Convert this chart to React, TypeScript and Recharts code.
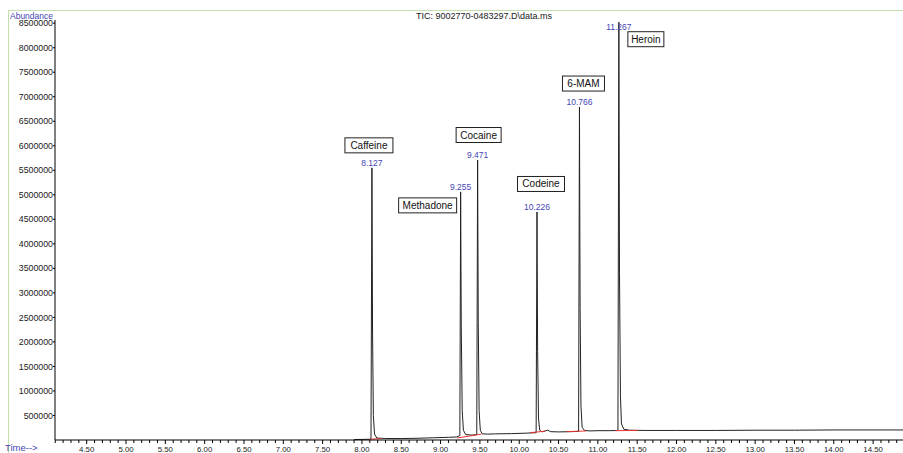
import React from 'react';
import { ComposedChart, Line, Scatter, XAxis, YAxis } from 'recharts';

// TIC trace, retention time (min) vs abundance
const timeMin = [
  7.9, 8.0, 8.1, 8.115, 8.127, 8.135, 8.145, 8.16, 8.19, 8.3, 8.5, 8.7, 8.9, 9.1, 9.2,
  9.245, 9.255, 9.263, 9.275, 9.29, 9.32, 9.4, 9.46, 9.471, 9.479, 9.49, 9.505, 9.53,
  9.6, 9.7, 9.9, 10.1, 10.215, 10.226, 10.234, 10.245, 10.26, 10.29, 10.33, 10.36, 10.4,
  10.5, 10.65, 10.755, 10.766, 10.774, 10.785, 10.8, 10.83, 10.9, 11.0, 11.15, 11.255,
  11.267, 11.275, 11.287, 11.3, 11.33, 11.4, 11.6, 12.0, 12.5, 13.0, 13.5, 14.0, 14.5, 14.88,
];
const abundance = [
  10000, 12000, 15000, 30000, 5550000, 2200000, 500000, 120000, 40000, 30000, 30000, 35000, 45000, 55000, 60000,
  90000, 5060000, 2300000, 600000, 200000, 110000, 100000, 110000, 5710000, 2400000, 600000, 200000, 125000,
  120000, 125000, 130000, 140000, 150000, 4650000, 1800000, 450000, 200000, 165000, 185000, 200000, 170000,
  165000, 170000, 175000, 6790000, 2700000, 700000, 260000, 195000, 185000, 190000, 190000, 195000,
  8520000, 3400000, 900000, 330000, 220000, 200000, 195000, 195000, 195000, 200000, 200000, 205000, 205000, 205000,
];

// identified peaks
const peakNames = ['Caffeine', 'Methadone', 'Cocaine', 'Codeine', '6-MAM', 'Heroin'];
const peakTimes = [8.127, 9.255, 9.471, 10.226, 10.766, 11.267];
const peakHeights = [5550000, 5060000, 5710000, 4650000, 6790000, 8520000];

// integration baselines (red)
const baseStartTime = [8.1, 9.21, 10.14, 10.6, 11.22];
const baseStartValue = [15000, 40000, 150000, 170000, 190000];
const baseEndTime = [8.25, 9.52, 10.33, 10.85, 11.51];
const baseEndValue = [30000, 120000, 180000, 185000, 195000];

const yTicks = [
  500000, 1000000, 1500000, 2000000, 2500000, 3000000, 3500000, 4000000, 4500000,
  5000000, 5500000, 6000000, 6500000, 7000000, 7500000, 8000000, 8500000,
];
const xMajorTicks = [4.5, 5, 5.5, 6, 6.5, 7, 7.5, 8, 8.5, 9, 9.5, 10, 10.5, 11, 11.5, 12, 12.5, 13, 13.5, 14, 14.5];
const xMinorTicks = Array.from({ length: 108 }, (_, i) => Math.round((4.1 + i * 0.1) * 10) / 10);

// label placement relative to each apex
const labelLayout = [
  { dx: -3, dy: -22.5, w: 48, numDy: -5 },
  { dx: -33, dy: 13.5, w: 58, numDy: -5 },
  { dx: 1, dy: -25, w: 45, numDy: -5 },
  { dx: 4, dy: -28, w: 47, numDy: -5 },
  { dx: 4, dy: -23.5, w: 42, numDy: -5 },
  { dx: 27, dy: 17, w: 36, numDy: 5 },
];

const trace = timeMin.map((t, i) => ({ t, v: abundance[i] }));
const peaks = peakNames.map((name, i) => ({ t: peakTimes[i], v: peakHeights[i], name, i }));
const baselines = baseStartTime.map((t, i) => [
  { t, v: baseStartValue[i] },
  { t: baseEndTime[i], v: baseEndValue[i] },
]);

const FONT = '"Liberation Sans", Arial, sans-serif';
const BLUE = '#4646b4';

const XTick = (props: any) => {
  const { x, y, payload } = props;
  const v = payload.value as number;
  const major = xMajorTicks.some((m) => Math.abs(m - v) < 1e-6);
  return (
    <g>
      <line x1={x} y1={y} x2={x} y2={y + (major ? 4 : 3)} stroke="#000" strokeWidth={1} />
      {major && (
        <text x={x} y={y + 12} textAnchor="middle" fontSize={7.8} fill="#222" fontFamily={FONT}>
          {v.toFixed(2)}
        </text>
      )}
    </g>
  );
};

const PeakLabel = (props: any) => {
  const { cx, cy, payload } = props;
  const l = labelLayout[payload.i];
  const bx = cx + l.dx;
  const by = cy + l.dy;
  return (
    <g fontFamily={FONT}>
      <text x={cx} y={cy + l.numDy + 3} textAnchor="middle" fontSize={8.5} fill={BLUE}>
        {payload.t.toFixed(3)}
      </text>
      <rect x={bx - l.w / 2} y={by - 7.5} width={l.w} height={15} fill="#fff" stroke="#222" strokeWidth={1} />
      <text x={bx} y={by + 3.5} textAnchor="middle" fontSize={10} fill="#111">
        {payload.name}
      </text>
    </g>
  );
};

export default function App() {
  return (
    <div
      style={{
        position: 'absolute',
        left: 0,
        top: 0,
        width: 903,
        height: 453,
        background: '#fff',
        fontFamily: FONT,
        overflow: 'hidden',
      }}
    >
      <div style={{ position: 'absolute', left: 8, top: 10, width: 895, height: 1, background: '#c3dfae' }} />
      <div style={{ position: 'absolute', left: 8, top: 10, width: 1, height: 443, background: '#c3dfae' }} />
      <ComposedChart
        width={903}
        height={453}
        margin={{ top: 20, right: 0, bottom: 0, left: 0 }}
        style={{ position: 'absolute', left: 0, top: 0 }}
      >
        <XAxis
          dataKey="t"
          type="number"
          domain={[4.097, 14.88]}
          allowDataOverflow
          ticks={xMinorTicks}
          interval={0}
          tick={<XTick />}
          tickLine={false}
          tickSize={0}
          tickMargin={0}
          height={13}
          axisLine={{ stroke: '#000' }}
        />
        <YAxis
          dataKey="v"
          type="number"
          domain={[0, 8565000]}
          allowDataOverflow
          ticks={yTicks}
          interval={0}
          width={55}
          tickSize={2}
          tickMargin={0}
          tickLine={{ stroke: '#000' }}
          axisLine={{ stroke: '#000' }}
          tick={{ fontSize: 8.8, fill: '#222', fontFamily: FONT }}
        />
        <Line
          data={trace}
          dataKey="v"
          type="linear"
          stroke="#222"
          strokeWidth={1}
          dot={false}
          activeDot={false}
          isAnimationActive={false}
        />
        {baselines.map((seg, i) => (
          <Line
            key={i}
            data={seg}
            dataKey="v"
            type="linear"
            stroke="#e8312f"
            strokeWidth={1}
            dot={false}
            activeDot={false}
            isAnimationActive={false}
          />
        ))}
        <Scatter data={peaks} dataKey="v" shape={<PeakLabel />} isAnimationActive={false} />
      </ComposedChart>
      <div style={{ position: 'absolute', left: 10, top: 11, fontSize: 8.5, lineHeight: '10px', color: BLUE }}>
        Abundance
      </div>
      <div
        style={{
          position: 'absolute',
          left: 384,
          width: 200,
          top: 11,
          textAlign: 'center',
          fontSize: 9,
          lineHeight: '10px',
          color: '#222',
        }}
      >
        TIC: 9002770-0483297.D\data.ms
      </div>
      <div style={{ position: 'absolute', left: 5, top: 443, fontSize: 9.5, lineHeight: '10px', color: BLUE }}>
        Time--&gt;
      </div>
    </div>
  );
}
